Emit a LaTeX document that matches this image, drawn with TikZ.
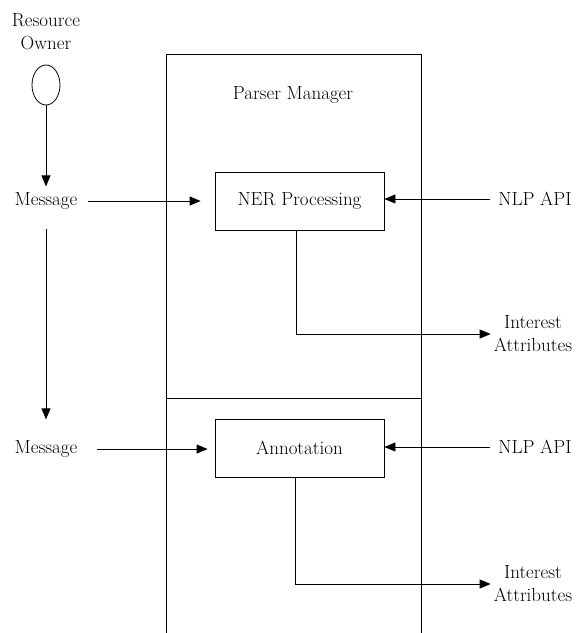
\documentclass[tikz,border=0pt]{standalone}
\usepackage{tikz}
\usetikzlibrary{arrows.meta,shapes.geometric}

\tikzset{
  lbl/.style={font=\fontsize{19}{23}\selectfont, align=center, inner sep=3pt},
  procbox/.style={draw, line width=0.8pt, minimum width=169pt, minimum height=58pt, font=\fontsize{19}{23}\selectfont},
  flow/.style={-{Triangle[length=11pt,width=9pt]}, line width=0.8pt}
}

\begin{document}
\begin{tikzpicture}[x=1pt,y=-1pt]
                \useasboundingbox (0,0) rectangle (587,633);
                % parser manager frame
                \draw[line width=0.8pt] (166,633) |- (421,54) -- (421,633);
                \draw[line width=0.8pt] (166,398) -- (421,398);
                \node[lbl] (pm) at (293,95) {Parser Manager};
                % resource owner
                \node[lbl] (ownerlbl) at (46,32) {Resource\\Owner};
                \node[draw, ellipse, line width=0.8pt, minimum width=28pt, minimum height=40pt, inner sep=0pt] (owner) at (46,85) {};
                % first stage
                \node[lbl] (msgA) at (46,201) {Message};
                \node[procbox] (ner) at (299.5,201) {NER Processing};
                \node[lbl] (nlpA) at (535,199) {NLP API};
                \node[lbl] (intA) at (533,334) {Interest\\Attributes};
                % second stage
                \node[lbl] (msgB) at (46,449) {Message};
                \node[procbox] (ann) at (299.5,448) {Annotation};
                \node[lbl] (nlpB) at (535,447) {NLP API};
                \node[lbl] (intB) at (533,584) {Interest\\Attributes};
                % connectors
                \draw[flow, shorten >=3pt] (owner.south) -- (msgA.north);
                \draw[flow, shorten <=7pt, shorten >=14pt] (msgA.east) -- (ner.west |- msgA.east);
                \draw[flow, shorten <=5pt] (nlpA.west) -- (ner.east |- nlpA.west);
                \draw[flow] ([xshift=-3.5pt]ner.south) |- (intA.west);
                \draw[flow, shorten <=16pt, shorten >=18pt] (msgA.south) -- (msgB.north);
                \draw[flow, shorten <=16pt, shorten >=7pt] (msgB.east) -- (ann.west |- msgB.east);
                \draw[flow, shorten <=5pt] (nlpB.west) -- (ann.east |- nlpB.west);
                \draw[flow] ([xshift=-4.5pt]ann.south) |- (intB.west);
\end{tikzpicture}
\end{document}
